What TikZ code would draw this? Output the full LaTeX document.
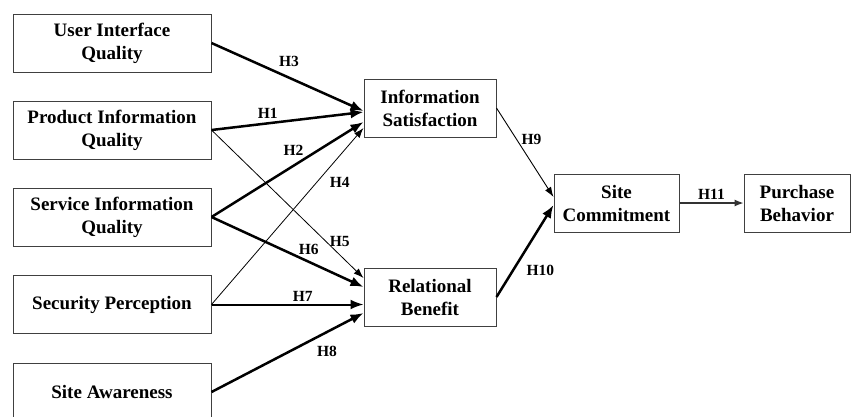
\documentclass[tikz,border=0pt]{standalone}
\usepackage{fontspec}
\setmainfont{Liberation Serif}
\usetikzlibrary{arrows.meta}

\tikzset{
  box/.style={draw=black!75, line width=1pt, minimum width=198pt, minimum height=58pt,
    inner sep=0pt, align=center, font=\fontsize{19}{23}\selectfont\bfseries},
  hyp/.style={inner sep=0pt, font=\fontsize{15.5}{18}\selectfont\bfseries},
  strong/.style={line width=2.5pt, -{Latex[length=13pt,width=10pt]}},
  weak/.style={line width=0.8pt, -{Latex[length=10pt,width=7pt]}},
}

\begin{document}
\begin{tikzpicture}[x=1pt,y=-1pt]
   \useasboundingbox (0,0) rectangle (851,416);

   %LEFT BOXES
   \node (uiq) at (112,43) [box] {User Interface\\Quality};
   \node (piq) at (112,130) [box] {Product Information\\Quality};
   \node (siq) at (112,217) [box] {Service Information\\Quality};
   \node (sp) at (112,304.5) [box] {Security Perception};
   \node (sa) at (112,392) [box] {Site Awareness};

   %MIDDLE AND RIGHT BOXES
   \node (is) at (430,108) [box, minimum width=132pt] {Information\\Satisfaction};
   \node (rb) at (430,297) [box, minimum width=132pt] {Relational\\Benefit};
   \node (sc) at (616.5,203) [box, minimum width=125pt] {Site\\Commitment};
   \node (pb) at (797,203) [box, minimum width=106pt] {Purchase\\Behavior};

   %TO INFORMATION SATISFACTION
   \draw [strong] (uiq.east) -- ([yshift=-3pt]is.west) node[hyp, pos=0.51, above=10pt]{H3};
   \draw [strong] (piq.east) -- ([yshift=-4pt]is.west) node[hyp, pos=0.37, above=3.5pt]{H1};
   \draw [strong] (siq.east) -- ([yshift=-14pt]is.west) node[hyp, pos=0.54, above=8.5pt]{H2};
   \draw [weak] (sp.east) -- ([yshift=-20pt]is.west) node[hyp, pos=0.69, right=13pt]{H4};

   %TO RELATIONAL BENEFIT
   \draw [weak] (piq.east) -- ([yshift=19pt]rb.west) node[hyp, pos=0.75, right=4pt]{H5};
   \draw [strong] (siq.east) -- ([yshift=10pt]rb.west) node[hyp, pos=0.64, above=5.5pt]{H6};
   \draw [strong, line width=2pt] (sp.east) -- (sp.east -| rb.west) node[hyp, pos=0.6, above=2.5pt]{H7};
   \draw [strong] (sa.east) -- ([yshift=-16pt]rb.west) node[hyp, pos=0.76, below=12.8pt]{H8};

   %TO SITE COMMITMENT
   \draw [weak, line width=0.9pt] (is.east) -- ([yshift=6pt]sc.west) node[hyp, pos=0.35, right=4.7pt]{H9};
   \draw [strong] (rb.east) -- ([yshift=-2pt]sc.west) node[hyp, pos=0.29, right=12.4pt]{H10};
   \draw [draw=black!80, line width=1.2pt, -{Latex[length=9pt,width=7pt]}] (sc) -- (pb) node[hyp, pos=0.5, above=2.8pt]{H11};
\end{tikzpicture}
\end{document}
